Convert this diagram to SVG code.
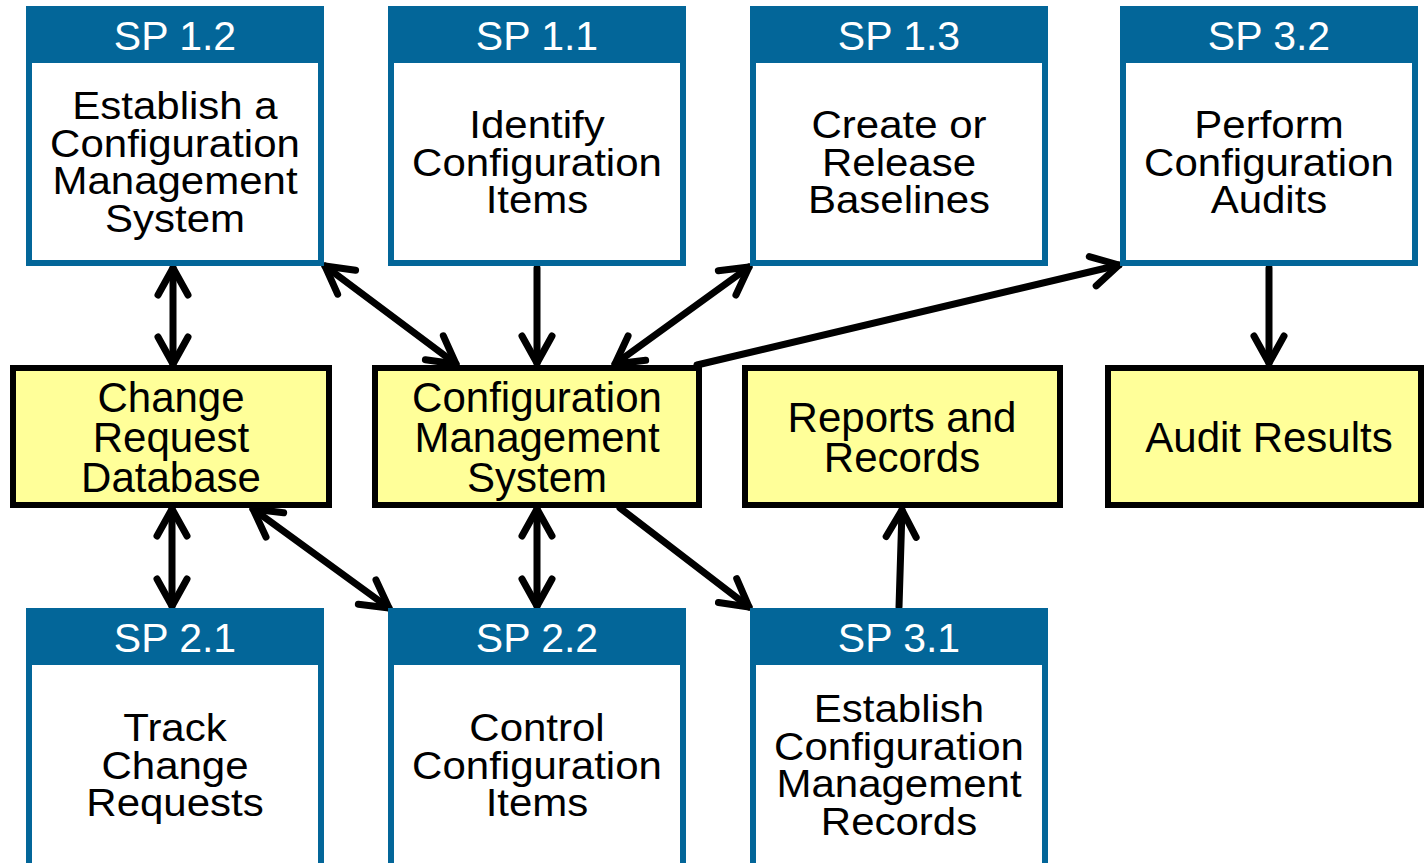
<svg xmlns="http://www.w3.org/2000/svg" width="1424" height="863" viewBox="0 0 1424 863">
<defs>
<style>
.sp{fill:#036699}
.in{fill:#ffffff}
.hd{font-family:"Liberation Sans",Arial,sans-serif;font-size:41px;fill:#ffffff;text-anchor:middle}
.bd{font-family:"Liberation Sans",Arial,sans-serif;font-size:42px;fill:#000000;text-anchor:middle}
.yb{fill:#ffff99;stroke:#000000;stroke-width:6}
.cn{stroke:#000000;stroke-width:7;fill:none;stroke-linecap:round;marker-end:url(#ah)}
.bi{marker-start:url(#ah)}
</style>
<marker id="ah" markerUnits="userSpaceOnUse" orient="auto-start-reverse" refX="0" refY="0" markerWidth="40" markerHeight="40" viewBox="-35 -20 40 40" overflow="visible">
<path d="M -27 -15 L 0 0 L -27 15" fill="none" stroke="#000000" stroke-width="7" stroke-linecap="round" stroke-linejoin="round"/>
</marker>
</defs>

<g id="connectors">
<line class="cn bi" x1="173" y1="268" x2="173" y2="364"/>
<line class="cn bi" x1="325" y1="266" x2="456" y2="364"/>
<line class="cn" x1="537" y1="268" x2="537" y2="363"/>
<line class="cn bi" x1="749" y1="267" x2="615" y2="364"/>
<line class="cn" x1="697" y1="365" x2="1119" y2="265"/>
<line class="cn" x1="1269" y1="268" x2="1269" y2="363"/>
<line class="cn bi" x1="172" y1="509" x2="172" y2="606"/>
<line class="cn bi" x1="253" y1="509" x2="389" y2="608"/>
<line class="cn bi" x1="537" y1="509" x2="537" y2="606"/>
<line class="cn" x1="620" y1="508" x2="749" y2="607"/>
<line class="cn" x1="899" y1="607" x2="902" y2="510"/>
</g>

<g id="sp12">
<rect class="sp" x="26" y="6" width="298" height="260"/>
<rect class="in" x="32" y="63" width="286" height="197"/>
<text class="hd" x="175" y="50">SP 1.2</text>
<text class="bd" transform="translate(175,119) scale(1,0.92)"><tspan x="0" y="0">Establish a</tspan><tspan x="0" dy="40.8">Configuration</tspan><tspan x="0" dy="40.8">Management</tspan><tspan x="0" dy="40.8">System</tspan></text>
</g>

<g id="sp11">
<rect class="sp" x="388" y="6" width="298" height="260"/>
<rect class="in" x="394" y="63" width="286" height="197"/>
<text class="hd" x="537" y="50">SP 1.1</text>
<text class="bd" transform="translate(537,138) scale(1,0.92)"><tspan x="0" y="0">Identify</tspan><tspan x="0" dy="40.8">Configuration</tspan><tspan x="0" dy="40.8">Items</tspan></text>
</g>

<g id="sp13">
<rect class="sp" x="750" y="6" width="298" height="260"/>
<rect class="in" x="756" y="63" width="286" height="197"/>
<text class="hd" x="899" y="50">SP 1.3</text>
<text class="bd" transform="translate(899,138) scale(1,0.92)"><tspan x="0" y="0">Create or</tspan><tspan x="0" dy="40.8">Release</tspan><tspan x="0" dy="40.8">Baselines</tspan></text>
</g>

<g id="sp32">
<rect class="sp" x="1120" y="6" width="298" height="260"/>
<rect class="in" x="1126" y="63" width="286" height="197"/>
<text class="hd" x="1269" y="50">SP 3.2</text>
<text class="bd" transform="translate(1269,138) scale(1,0.92)"><tspan x="0" y="0">Perform</tspan><tspan x="0" dy="40.8">Configuration</tspan><tspan x="0" dy="40.8">Audits</tspan></text>
</g>

<g id="crdb">
<rect class="yb" x="13" y="368" width="316" height="137"/>
<text class="bd" x="171" y="411.5">Change<tspan x="171" dy="40">Request</tspan><tspan x="171" dy="40">Database</tspan></text>
</g>

<g id="cms">
<rect class="yb" x="375" y="368" width="324" height="137"/>
<text class="bd" x="537" y="411.5">Configuration<tspan x="537" dy="40">Management</tspan><tspan x="537" dy="40">System</tspan></text>
</g>

<g id="reports">
<rect class="yb" x="745" y="368" width="315" height="137"/>
<text class="bd" x="902" y="431.5">Reports and<tspan x="902" dy="40">Records</tspan></text>
</g>

<g id="audit">
<rect class="yb" x="1108" y="368" width="313" height="137"/>
<text class="bd" x="1269" y="451.5">Audit Results</text>
</g>

<g id="sp21">
<rect class="sp" x="26" y="608" width="298" height="270"/>
<rect class="in" x="32" y="665" width="286" height="210"/>
<text class="hd" x="175" y="652">SP 2.1</text>
<text class="bd" transform="translate(175,741) scale(1,0.92)"><tspan x="0" y="0">Track</tspan><tspan x="0" dy="40.8">Change</tspan><tspan x="0" dy="40.8">Requests</tspan></text>
</g>

<g id="sp22">
<rect class="sp" x="388" y="608" width="298" height="270"/>
<rect class="in" x="394" y="665" width="286" height="210"/>
<text class="hd" x="537" y="652">SP 2.2</text>
<text class="bd" transform="translate(537,741) scale(1,0.92)"><tspan x="0" y="0">Control</tspan><tspan x="0" dy="40.8">Configuration</tspan><tspan x="0" dy="40.8">Items</tspan></text>
</g>

<g id="sp31">
<rect class="sp" x="750" y="608" width="298" height="270"/>
<rect class="in" x="756" y="665" width="286" height="210"/>
<text class="hd" x="899" y="652">SP 3.1</text>
<text class="bd" transform="translate(899,722) scale(1,0.92)"><tspan x="0" y="0">Establish</tspan><tspan x="0" dy="40.8">Configuration</tspan><tspan x="0" dy="40.8">Management</tspan><tspan x="0" dy="40.8">Records</tspan></text>
</g>
</svg>
